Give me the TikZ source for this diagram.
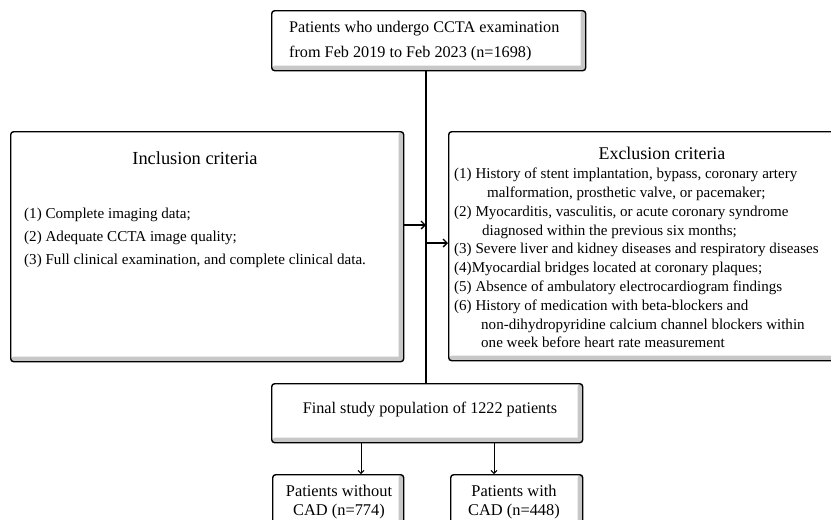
\documentclass[tikz,border=0pt]{standalone}
\usepackage{fontspec}
\setmainfont{Liberation Serif}
\usetikzlibrary{arrows.meta}
\begin{document}
\begin{tikzpicture}[x=1pt,y=-1pt,
  box/.style={draw=black, line width=1.4pt, rounded corners=3pt, fill=white, anchor=north west, inner sep=0pt,
    path picture={
      \fill[black!22] ([xshift=-5pt]path picture bounding box.north east) rectangle (path picture bounding box.south east);
      \fill[black!22] (path picture bounding box.south west) rectangle ([yshift=5pt]path picture bounding box.south east);
    }},
  txt/.style={inner sep=0pt, align=left},
  thickarr/.style={-{Straight Barb[length=4pt,width=8pt,line width=1.4pt]}, line width=1.6pt},
  thinarr/.style={-{Straight Barb[length=3pt,width=6pt]}, line width=1pt}]
\useasboundingbox (0,0) rectangle (831,520);
\clip (0,0) rectangle (831,520);
% boxes
\node[box, minimum width=314pt, minimum height=60pt] (top) at (271,10) {};
\node[box, minimum width=393pt, minimum height=230pt] (inc) at (10,131) {};
\node[box, minimum width=400pt, minimum height=229pt] (exc) at (448,131) {};
\node[box, minimum width=311pt, minimum height=59pt] (fin) at (271,383) {};
\node[box, minimum width=131pt, minimum height=60pt] (bl) at (272,474) {};
\node[box, minimum width=132pt, minimum height=60pt] (br) at (450,474) {};
% texts
\node[txt, anchor=west, font=\fontsize{16.2}{25}\selectfont] (toptext) at (289,41)
  {Patients who undergo CCTA examination\\from Feb 2019 to Feb 2023 (n=1698)};
\node[txt, font=\fontsize{18.4}{20}\selectfont] (inctitle) at (195,158) {Inclusion criteria};
\node[txt, anchor=west, font=\fontsize{15.1}{23}\selectfont] (incitems) at (24,238)
  {(1) Complete imaging data;\\(2) Adequate CCTA image quality;\\(3) Full clinical examination, and complete clinical data.};
\node[txt, font=\fontsize{17.9}{20}\selectfont] (exctitle) at (662,153) {Exclusion criteria};
\node[txt, anchor=west, font=\fontsize{15.05}{18.8}\selectfont] (excitems) at (454,258)
  {(1) History of stent implantation, bypass, coronary artery\\
   \hspace*{33pt}malformation, prosthetic valve, or pacemaker;\\
   (2) Myocarditis, vasculitis, or acute coronary syndrome\\
   \hspace*{28pt}diagnosed within the previous six months;\\
   (3) Severe liver and kidney diseases and respiratory diseases\\
   (4)Myocardial bridges located at coronary plaques;\\
   (5) Absence of ambulatory electrocardiogram findings\\
   (6) History of medication with beta-blockers and\\
   \hspace*{27pt}non-dihydropyridine calcium channel blockers within\\
   \hspace*{27pt}one week before heart rate measurement};
\node[txt, font=\fontsize{16.2}{18}\selectfont] (fintext) at (430,410) {Final study population of 1222 patients};
\node[txt, align=center, font=\fontsize{16.4}{19}\selectfont] (bltext) at (339,502) {Patients without\\CAD (n=774)};
\node[txt, align=center, font=\fontsize{16.4}{19}\selectfont] (brtext) at (514,502) {Patients with\\CAD (n=448)};
% connectors
\coordinate (mx) at (426,0);
\coordinate (a1) at (426,225);
\coordinate (a2) at (426,243);
\coordinate (d1) at (361,0);
\coordinate (d2) at (494,0);
\draw[line width=1.6pt] (top.south -| mx) -- (fin.north -| mx);
\draw[thickarr] (inc.east |- a1) -- (a1);
\draw[thickarr] (a2) -- (exc.west |- a2);
\draw[thinarr] (fin.south -| d1) -- (bl.north -| d1);
\draw[thinarr] (fin.south -| d2) -- (br.north -| d2);
\end{tikzpicture}
\end{document}
